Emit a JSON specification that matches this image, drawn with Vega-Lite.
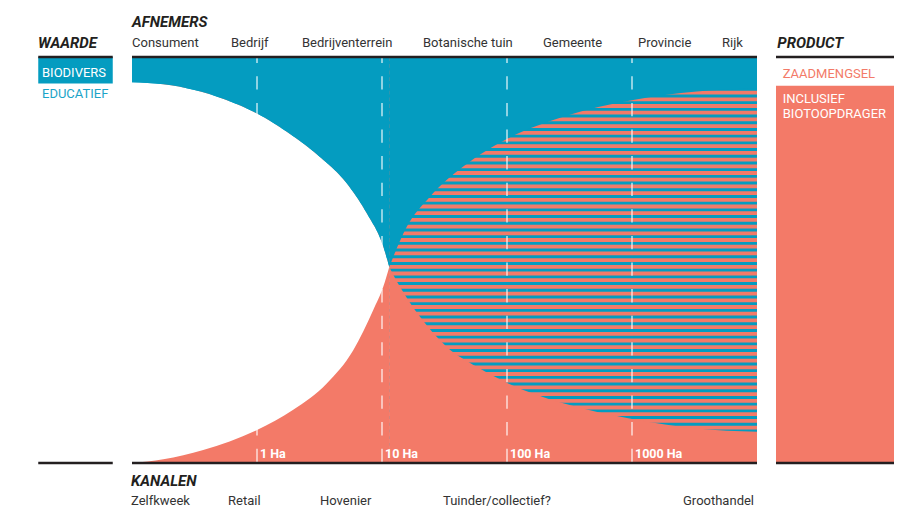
{
  "$schema": "https://vega.github.io/schema/vega-lite/v6.json",
  "width": 906,
  "height": 509,
  "autosize": "none",
  "padding": 0,
  "background": "white",
  "config": {"view": {"stroke": null}, "font": "Roboto"},
  "datasets": {
    "frame": [{"x": -1, "x2": 4, "y": 0, "y2": 100}],
    "stripes": [{"x": 1.5, "y": 0, "y2": 100}],
    "upper": [
      {"part": "L", "x": -1, "y": 93.8},
      {"part": "L", "x": -0.75, "y": 93.3},
      {"part": "L", "x": -0.5, "y": 91.9},
      {"part": "L", "x": -0.25, "y": 89.5},
      {"part": "L", "x": 0, "y": 86.1},
      {"part": "L", "x": 0.238, "y": 81.6},
      {"part": "L", "x": 0.504, "y": 75.4},
      {"part": "L", "x": 0.718, "y": 68.9},
      {"part": "L", "x": 0.878, "y": 61.5},
      {"part": "L", "x": 1.01, "y": 53.3},
      {"part": "L", "x": 1.058, "y": 48.3},
      {"part": "R", "x": 1.058, "y": 48.3},
      {"part": "R", "x": 1.198, "y": 58.2},
      {"part": "R", "x": 1.384, "y": 65.6},
      {"part": "R", "x": 1.65, "y": 73.0},
      {"part": "R", "x": 2.01, "y": 80.0},
      {"part": "R", "x": 2.45, "y": 85.3},
      {"part": "R", "x": 3.01, "y": 89.4},
      {"part": "R", "x": 3.518, "y": 91.5},
      {"part": "R", "x": 4.0, "y": 92.3}
    ],
    "lower": [
      {"part": "L", "x": -1, "y": 0},
      {"part": "L", "x": -0.749, "y": 0.9},
      {"part": "L", "x": -0.43, "y": 3.2},
      {"part": "L", "x": 0, "y": 8.1},
      {"part": "L", "x": 0.29, "y": 13.1},
      {"part": "L", "x": 0.558, "y": 19.6},
      {"part": "L", "x": 0.77, "y": 27.8},
      {"part": "L", "x": 0.93, "y": 37.7},
      {"part": "L", "x": 1.01, "y": 43.4},
      {"part": "L", "x": 1.058, "y": 48.3},
      {"part": "R", "x": 1.058, "y": 48.3},
      {"part": "R", "x": 1.144, "y": 43.4},
      {"part": "R", "x": 1.304, "y": 36.0},
      {"part": "R", "x": 1.518, "y": 28.6},
      {"part": "R", "x": 1.758, "y": 23.7},
      {"part": "R", "x": 2.01, "y": 19.6},
      {"part": "R", "x": 2.45, "y": 14.7},
      {"part": "R", "x": 3.01, "y": 10.8},
      {"part": "R", "x": 3.518, "y": 8.5},
      {"part": "R", "x": 4.0, "y": 7.7}
    ],
    "grid": [{"x": 0, "y": 100, "y2": 0}, {"x": 1, "y": 100, "y2": 0}, {"x": 2, "y": 100, "y2": 0}, {"x": 3, "y": 100, "y2": 0}],
    "blueBox": [{"x": -1.75, "x2": -1.154, "y": 93.5, "y2": 100}],
    "redBox": [{"x": 4.152, "x2": 5.096, "y": 0, "y2": 92.9}],
    "lines": [
      {"x": -1.75, "x2": -1.154, "y": 100},
      {"x": -1, "x2": 4, "y": 100},
      {"x": 4.152, "x2": 5.096, "y": 100},
      {"x": -1.75, "x2": -1.154, "y": 0},
      {"x": -1, "x2": 4, "y": 0},
      {"x": 4.152, "x2": 5.096, "y": 0}
    ],
    "headers": [
      {"x": -1, "y": 107.5, "text": "AFNEMERS"},
      {"x": -1.752, "y": 102.2, "text": "WAARDE"},
      {"x": 4.162, "y": 102.2, "text": "PRODUCT"},
      {"x": -1.008, "y": -5.6, "text": "KANALEN"}
    ],
    "topLabels": [
      {"x": -1, "y": 102.5, "text": "Consument"},
      {"x": -0.208, "y": 102.5, "text": "Bedrijf"},
      {"x": 0.36, "y": 102.5, "text": "Bedrijventerrein"},
      {"x": 1.328, "y": 102.5, "text": "Botanische tuin"},
      {"x": 2.288, "y": 102.5, "text": "Gemeente"},
      {"x": 3.048, "y": 102.5, "text": "Provincie"},
      {"x": 3.72, "y": 102.5, "text": "Rijk"}
    ],
    "bottomLabels": [
      {"x": -1.008, "y": -10.3, "text": "Zelfkweek"},
      {"x": -0.232, "y": -10.3, "text": "Retail"},
      {"x": 0.504, "y": -10.3, "text": "Hovenier"},
      {"x": 1.488, "y": -10.3, "text": "Tuinder/collectief?"},
      {"x": 3.408, "y": -10.3, "text": "Groothandel"}
    ],
    "haLabels": [
      {"x": 0, "y": 1.2, "text": "1 Ha"},
      {"x": 1, "y": 1.2, "text": "10 Ha"},
      {"x": 2, "y": 1.2, "text": "100 Ha"},
      {"x": 3, "y": 1.2, "text": "1000 Ha"}
    ],
    "whiteTexts": [
      {"x": -1.72, "y": 95.1, "text": "BIODIVERS"},
      {"x": 4.206, "y": 88.6, "text": "INCLUSIEF"},
      {"x": 4.206, "y": 85.0, "text": "BIOTOOPDRAGER"}
    ],
    "blueTexts": [{"x": -1.72, "y": 89.8, "text": "EDUCATIEF"}],
    "redTexts": [{"x": 4.206, "y": 94.8, "text": "ZAADMENGSEL"}]
  },
  "layer": [
    {
      "data": {"name": "frame"},
      "mark": {"type": "rect", "color": "#049cc0"},
      "encoding": {
        "x": {"field": "x", "type": "quantitative", "scale": {"domain": [-2.056, 5.192], "nice": false, "zero": false}, "axis": null},
        "x2": {"field": "x2"},
        "y": {"field": "y", "type": "quantitative", "scale": {"domain": [-11.33, 114.04], "nice": false, "zero": false}, "axis": null},
        "y2": {"field": "y2"}
      }
    },
    {
      "data": {"name": "stripes"},
      "mark": {"type": "rule", "color": "#f37a68", "strokeWidth": 625, "strokeCap": "butt", "strokeDash": [3.8, 2.9]},
      "encoding": {
        "x": {"field": "x", "type": "quantitative", "scale": {"domain": [-2.056, 5.192], "nice": false, "zero": false}, "axis": null},
        "y": {"field": "y", "type": "quantitative", "scale": {"domain": [-11.33, 114.04], "nice": false, "zero": false}, "axis": null},
        "y2": {"field": "y2"}
      }
    },
    {
      "data": {"name": "upper"},
      "transform": [{"filter": "datum.part === 'L'"}],
      "mark": {"type": "area", "color": "white", "interpolate": "monotone"},
      "encoding": {
        "x": {"field": "x", "type": "quantitative", "scale": {"domain": [-2.056, 5.192], "nice": false, "zero": false}, "axis": null},
        "y": {"field": "y", "type": "quantitative", "scale": {"domain": [-11.33, 114.04], "nice": false, "zero": false}, "axis": null},
        "y2": {"datum": 0},
        "detail": {"field": "part"}
      }
    },
    {
      "data": {"name": "upper"},
      "mark": {"type": "area", "color": "#049cc0", "interpolate": "monotone"},
      "encoding": {
        "x": {"field": "x", "type": "quantitative", "scale": {"domain": [-2.056, 5.192], "nice": false, "zero": false}, "axis": null},
        "y": {"field": "y", "type": "quantitative", "scale": {"domain": [-11.33, 114.04], "nice": false, "zero": false}, "axis": null},
        "y2": {"datum": 100},
        "detail": {"field": "part"}
      }
    },
    {
      "data": {"name": "lower"},
      "mark": {"type": "area", "color": "#f37a68", "interpolate": "monotone"},
      "encoding": {
        "x": {"field": "x", "type": "quantitative", "scale": {"domain": [-2.056, 5.192], "nice": false, "zero": false}, "axis": null},
        "y": {"field": "y", "type": "quantitative", "scale": {"domain": [-11.33, 114.04], "nice": false, "zero": false}, "axis": null},
        "y2": {"datum": 0},
        "detail": {"field": "part"}
      }
    },
    {
      "data": {"name": "grid"},
      "mark": {"type": "rule", "color": "white", "opacity": 0.75, "strokeWidth": 1.5, "strokeDash": [13.3, 13.3], "strokeDashOffset": 7.3},
      "encoding": {
        "x": {"field": "x", "type": "quantitative", "scale": {"domain": [-2.056, 5.192], "nice": false, "zero": false}, "axis": null},
        "y": {"field": "y", "type": "quantitative", "scale": {"domain": [-11.33, 114.04], "nice": false, "zero": false}, "axis": null},
        "y2": {"field": "y2"}
      }
    },
    {
      "data": {"name": "blueBox"},
      "mark": {"type": "rect", "color": "#049cc0"},
      "encoding": {
        "x": {"field": "x", "type": "quantitative", "scale": {"domain": [-2.056, 5.192], "nice": false, "zero": false}, "axis": null},
        "x2": {"field": "x2"},
        "y": {"field": "y", "type": "quantitative", "scale": {"domain": [-11.33, 114.04], "nice": false, "zero": false}, "axis": null},
        "y2": {"field": "y2"}
      }
    },
    {
      "data": {"name": "redBox"},
      "mark": {"type": "rect", "color": "#f37a68"},
      "encoding": {
        "x": {"field": "x", "type": "quantitative", "scale": {"domain": [-2.056, 5.192], "nice": false, "zero": false}, "axis": null},
        "x2": {"field": "x2"},
        "y": {"field": "y", "type": "quantitative", "scale": {"domain": [-11.33, 114.04], "nice": false, "zero": false}, "axis": null},
        "y2": {"field": "y2"}
      }
    },
    {
      "data": {"name": "lines"},
      "mark": {"type": "rule", "color": "#231f20", "strokeWidth": 2.4},
      "encoding": {
        "x": {"field": "x", "type": "quantitative", "scale": {"domain": [-2.056, 5.192], "nice": false, "zero": false}, "axis": null},
        "x2": {"field": "x2"},
        "y": {"field": "y", "type": "quantitative", "scale": {"domain": [-11.33, 114.04], "nice": false, "zero": false}, "axis": null}
      }
    },
    {
      "data": {"name": "headers"},
      "mark": {"type": "text", "align": "left", "baseline": "alphabetic", "font": "Roboto", "fontSize": 15, "fontWeight": "bold", "fontStyle": "italic", "color": "#231f20"},
      "encoding": {
        "x": {"field": "x", "type": "quantitative", "scale": {"domain": [-2.056, 5.192], "nice": false, "zero": false}, "axis": null},
        "y": {"field": "y", "type": "quantitative", "scale": {"domain": [-11.33, 114.04], "nice": false, "zero": false}, "axis": null},
        "text": {"field": "text"}
      }
    },
    {
      "data": {"name": "topLabels"},
      "mark": {"type": "text", "align": "left", "baseline": "alphabetic", "font": "Roboto", "fontSize": 13, "color": "#333333"},
      "encoding": {
        "x": {"field": "x", "type": "quantitative", "scale": {"domain": [-2.056, 5.192], "nice": false, "zero": false}, "axis": null},
        "y": {"field": "y", "type": "quantitative", "scale": {"domain": [-11.33, 114.04], "nice": false, "zero": false}, "axis": null},
        "text": {"field": "text"}
      }
    },
    {
      "data": {"name": "bottomLabels"},
      "mark": {"type": "text", "align": "left", "baseline": "alphabetic", "font": "Roboto", "fontSize": 13, "color": "#333333"},
      "encoding": {
        "x": {"field": "x", "type": "quantitative", "scale": {"domain": [-2.056, 5.192], "nice": false, "zero": false}, "axis": null},
        "y": {"field": "y", "type": "quantitative", "scale": {"domain": [-11.33, 114.04], "nice": false, "zero": false}, "axis": null},
        "text": {"field": "text"}
      }
    },
    {
      "data": {"name": "haLabels"},
      "mark": {"type": "text", "align": "left", "baseline": "alphabetic", "dx": 3, "font": "Roboto", "fontSize": 12.5, "fontWeight": "bold", "color": "white"},
      "encoding": {
        "x": {"field": "x", "type": "quantitative", "scale": {"domain": [-2.056, 5.192], "nice": false, "zero": false}, "axis": null},
        "y": {"field": "y", "type": "quantitative", "scale": {"domain": [-11.33, 114.04], "nice": false, "zero": false}, "axis": null},
        "text": {"field": "text"}
      }
    },
    {
      "data": {"name": "whiteTexts"},
      "mark": {"type": "text", "align": "left", "baseline": "alphabetic", "font": "Roboto", "fontSize": 13, "color": "white"},
      "encoding": {
        "x": {"field": "x", "type": "quantitative", "scale": {"domain": [-2.056, 5.192], "nice": false, "zero": false}, "axis": null},
        "y": {"field": "y", "type": "quantitative", "scale": {"domain": [-11.33, 114.04], "nice": false, "zero": false}, "axis": null},
        "text": {"field": "text"}
      }
    },
    {
      "data": {"name": "blueTexts"},
      "mark": {"type": "text", "align": "left", "baseline": "alphabetic", "font": "Roboto", "fontSize": 13, "color": "#1ba4c8"},
      "encoding": {
        "x": {"field": "x", "type": "quantitative", "scale": {"domain": [-2.056, 5.192], "nice": false, "zero": false}, "axis": null},
        "y": {"field": "y", "type": "quantitative", "scale": {"domain": [-11.33, 114.04], "nice": false, "zero": false}, "axis": null},
        "text": {"field": "text"}
      }
    },
    {
      "data": {"name": "redTexts"},
      "mark": {"type": "text", "align": "left", "baseline": "alphabetic", "font": "Roboto", "fontSize": 13, "color": "#f37a68"},
      "encoding": {
        "x": {"field": "x", "type": "quantitative", "scale": {"domain": [-2.056, 5.192], "nice": false, "zero": false}, "axis": null},
        "y": {"field": "y", "type": "quantitative", "scale": {"domain": [-11.33, 114.04], "nice": false, "zero": false}, "axis": null},
        "text": {"field": "text"}
      }
    }
  ]
}
